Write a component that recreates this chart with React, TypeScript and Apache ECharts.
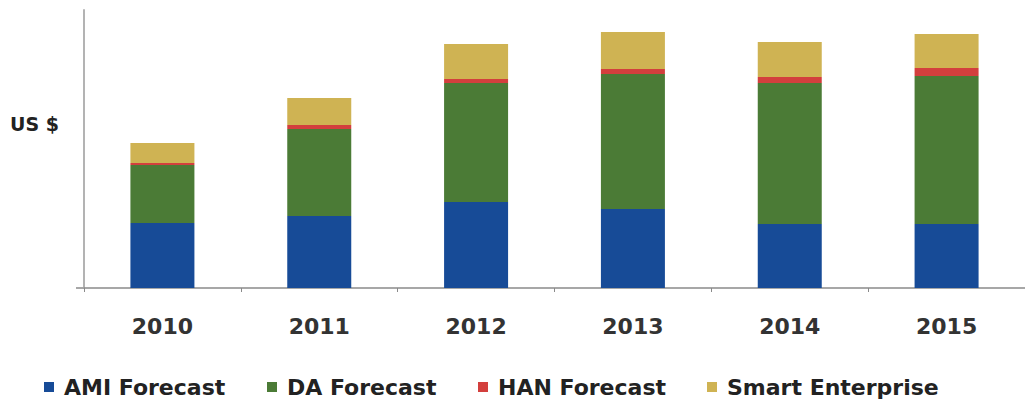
import React, { useEffect, useRef } from "react";
import * as echarts from "echarts";

const categories = ["2010", "2011", "2012", "2013", "2014", "2015"];
const amiForecast = [65, 72, 86, 79, 64, 64];
const daForecast = [58, 87, 119, 135, 141, 148];
const hanForecast = [2, 4, 4, 5, 6, 8];
const smartEnterprise = [20, 27, 35, 37, 35, 34];
const seriesNames = ["AMI Forecast", "DA Forecast", "HAN Forecast", "Smart Enterprise"];
const seriesColors = ["#174b97", "#4b7b36", "#d33f3d", "#cfb353"];
const legendLefts = [44, 267, 478, 707];

export default function App() {
  const ref = useRef<HTMLDivElement>(null);
  useEffect(() => {
    if (!ref.current) return;
    const chart = echarts.init(ref.current, undefined, { renderer: "svg" });
    const values = [amiForecast, daForecast, hanForecast, smartEnterprise];
    chart.setOption({
      animation: false,
      backgroundColor: "#ffffff",
      grid: { left: 84, right: -7, top: 10, bottom: 117 },
      xAxis: {
        type: "category",
        data: categories,
        axisLine: { show: true, lineStyle: { color: "#8a8a8a", width: 1.5 } },
        axisTick: { show: true, length: 4, lineStyle: { color: "#8a8a8a" } },
        axisLabel: {
          margin: 27,
          fontFamily: "DejaVu Sans",
          fontWeight: "bold",
          fontSize: 22,
          color: "#333333",
        },
      },
      yAxis: {
        type: "value",
        min: 0,
        max: 278,
        axisLine: { show: true, lineStyle: { color: "#b3b3b3", width: 2 } },
        axisTick: { show: false },
        axisLabel: { show: false },
        splitLine: { show: false },
      },
      legend: seriesNames.map((n, i) => ({
        data: [n],
        left: legendLefts[i],
        top: 376,
        icon: "rect",
        itemWidth: 10,
        itemHeight: 10,
        padding: 0,
        textStyle: {
          fontFamily: "DejaVu Sans",
          fontWeight: "bold",
          fontSize: 22,
          color: "#222222",
          padding: [6, 0, 0, 5],
        },
      })),
      graphic: [
        {
          type: "line",
          shape: { x1: 76, y1: 288, x2: 85, y2: 288 },
          style: { stroke: "#8a8a8a", lineWidth: 1.5 },
        },
        {
          type: "text",
          left: 10,
          top: 114,
          style: {
            text: "US $",
            fontFamily: "DejaVu Sans",
            fontWeight: "bold",
            fontSize: 19,
            fill: "#222222",
          },
        },
      ],
      series: seriesNames.map((n, i) => ({
        name: n,
        type: "bar",
        stack: "total",
        barWidth: 64,
        data: values[i],
        itemStyle: { color: seriesColors[i] },
      })),
    });
    return () => chart.dispose();
  }, []);
  return (
    <div
      ref={ref}
      style={{ position: "fixed", left: 0, top: 0, width: 1025, height: 405, background: "#fff" }}
    />
  );
}
